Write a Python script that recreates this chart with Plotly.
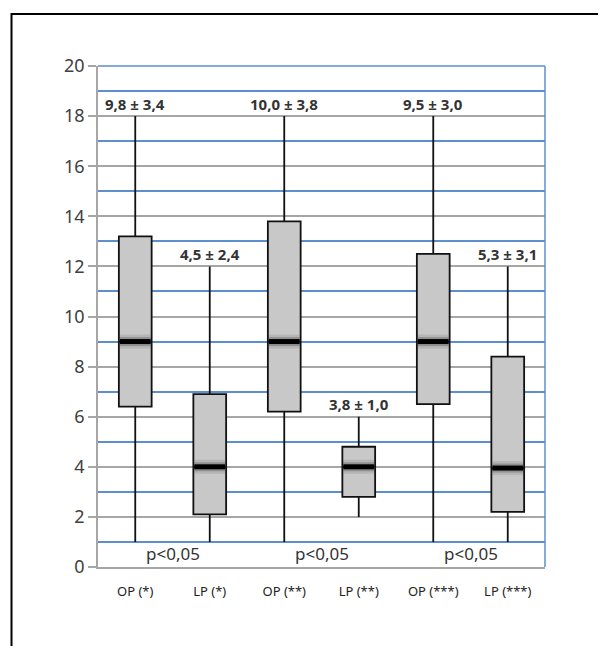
import plotly.graph_objects as go

categories = ["OP (*)", "LP (*)", "OP (**)", "LP (**)", "OP (***)", "LP (***)"]
lower = [1, 1, 1, 2, 1, 1]
q1 = [6.4, 2.1, 6.2, 2.8, 6.5, 2.2]
median = [9.0, 4.0, 9.0, 4.0, 9.0, 3.95]
q3 = [13.2, 6.9, 13.8, 4.8, 12.5, 8.4]
upper = [18, 12, 18, 6, 18, 12]
mean_labels = ["9,8 ± 3,4", "4,5 ± 2,4", "10,0 ± 3,8", "3,8 ± 1,0", "9,5 ± 3,0", "5,3 ± 3,1"]
p_labels = ["p<0,05", "p<0,05", "p<0,05"]
p_positions = [0.5, 2.5, 4.5]

FONT = "Noto Sans"
GRID_GRAY = "#a6a6a6"
GRID_BLUE = "#5b8fd0"
MED_SIZE = 22

fig = go.Figure()

fig.add_trace(go.Box(
    x=categories, q1=q1, median=median, q3=q3,
    lowerfence=lower, upperfence=upper,
    fillcolor="#c8c8c8", line=dict(color="#111111", width=1.8),
    whiskerwidth=0, width=0.44, boxpoints=False, hoverinfo="skip",
    showlegend=False,
))

# median shading and thick median band
fig.add_trace(go.Scatter(
    x=categories, y=median, mode="markers",
    marker=dict(symbol="line-ew", size=MED_SIZE, line=dict(width=14, color="rgba(90,90,90,0.16)")),
    showlegend=False, hoverinfo="skip",
))
fig.add_trace(go.Scatter(
    x=categories, y=median, mode="markers",
    marker=dict(symbol="line-ew", size=MED_SIZE, line=dict(width=9, color="rgba(40,40,40,0.25)")),
    showlegend=False, hoverinfo="skip",
))
fig.add_trace(go.Scatter(
    x=categories, y=median, mode="markers",
    marker=dict(symbol="line-ew", size=MED_SIZE, line=dict(width=5, color="#000000")),
    showlegend=False, hoverinfo="skip",
))

annotations = []
for c, u, t in zip(categories, upper, mean_labels):
    annotations.append(dict(x=c, y=u + 0.5, text="<b>" + t + "</b>", showarrow=False,
                            xanchor="center", yanchor="middle",
                            font=dict(family=FONT, size=15, color="#333333")))
for px, t in zip(p_positions, p_labels):
    annotations.append(dict(x=px, y=0.55, text=t, showarrow=False,
                            xanchor="center", yanchor="middle",
                            font=dict(family=FONT, size=17, color="#333333")))

shapes = [
    # blue top and right border of plot area
    dict(type="line", xref="paper", yref="paper", x0=0, x1=1, y0=1, y1=1,
         line=dict(color=GRID_BLUE, width=1.5)),
    dict(type="line", xref="paper", yref="paper", x0=1, x1=1, y0=0, y1=1,
         line=dict(color=GRID_BLUE, width=1.5)),
    # outer black frame
    dict(type="rect", xref="paper", yref="paper", x0=-0.1935, x1=1.2, y0=-0.2, y1=1.104,
         line=dict(color="#000000", width=2), fillcolor="rgba(0,0,0,0)", layer="above"),
]

fig.update_layout(
    width=598, height=638,
    margin=dict(l=90, r=61, t=58, b=79),
    paper_bgcolor="white", plot_bgcolor="white",
    annotations=annotations, shapes=shapes,
    font=dict(family=FONT, color="#404040"),
    xaxis=dict(type="category", showgrid=False, showline=True, linecolor=GRID_GRAY, linewidth=1.5,
               ticks="outside", ticklen=12, tickcolor="rgba(0,0,0,0)",
               tickfont=dict(family=FONT, size=13, color="#222222"),
               range=[-0.5, 5.5], zeroline=False, fixedrange=True),
    yaxis=dict(range=[0, 20], dtick=2, tick0=0, showgrid=True, gridcolor=GRID_GRAY, gridwidth=1.5,
               minor=dict(dtick=1, showgrid=True, gridcolor=GRID_BLUE, gridwidth=1.5),
               showline=True, linecolor=GRID_GRAY, linewidth=1.5,
               ticks="outside", ticklen=8, tickcolor=GRID_GRAY, tickwidth=1.5,
               tickfont=dict(family=FONT, size=18, color="#404040"),
               zeroline=False, fixedrange=True),
)

fig.write_html("out.html")
